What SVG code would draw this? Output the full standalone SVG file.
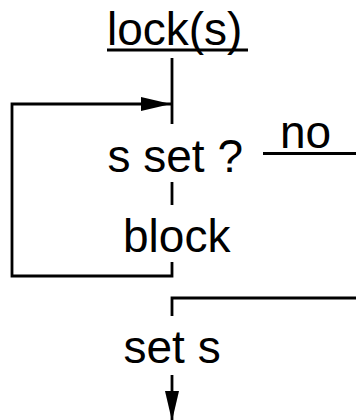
<svg xmlns="http://www.w3.org/2000/svg" width="356" height="420" viewBox="0 0 356 420">
<style>
text{font-family:"Liberation Sans",Arial,sans-serif;font-size:46px;fill:#000}
.ln{stroke:#000;stroke-width:2.8;fill:none}
</style>
<defs>
<marker id="ah" markerUnits="userSpaceOnUse" markerWidth="30" markerHeight="14" refX="30" refY="7" orient="auto">
<path d="M0,0 L30,7 L0,14 Z" fill="#000"/>
</marker>
</defs>
<rect width="356" height="420" fill="#fff"/>
<g id="connectors">
<line class="ln" x1="107" y1="50" x2="248" y2="50"/>
<line class="ln" x1="172" y1="58" x2="172" y2="124"/>
<line class="ln" x1="172" y1="182" x2="172" y2="205"/>
<polyline class="ln" points="172,262 172,276 12,276 12,104 171,104" marker-end="url(#ah)"/>
<line class="ln" x1="263" y1="153.5" x2="356" y2="153.5"/>
<polyline class="ln" points="356,298 172,298 172,316"/>
<line class="ln" x1="172" y1="375" x2="172" y2="421" marker-end="url(#ah)"/>
</g>
<g id="lock"><text x="107" y="45">lock(s)</text></g>
<g id="sset"><text x="107.5" y="172">s set ?</text></g>
<g id="no"><text x="280" y="148">no</text></g>
<g id="block"><text x="123" y="252">block</text></g>
<g id="sets"><text x="123.5" y="363">set s</text></g>
</svg>
